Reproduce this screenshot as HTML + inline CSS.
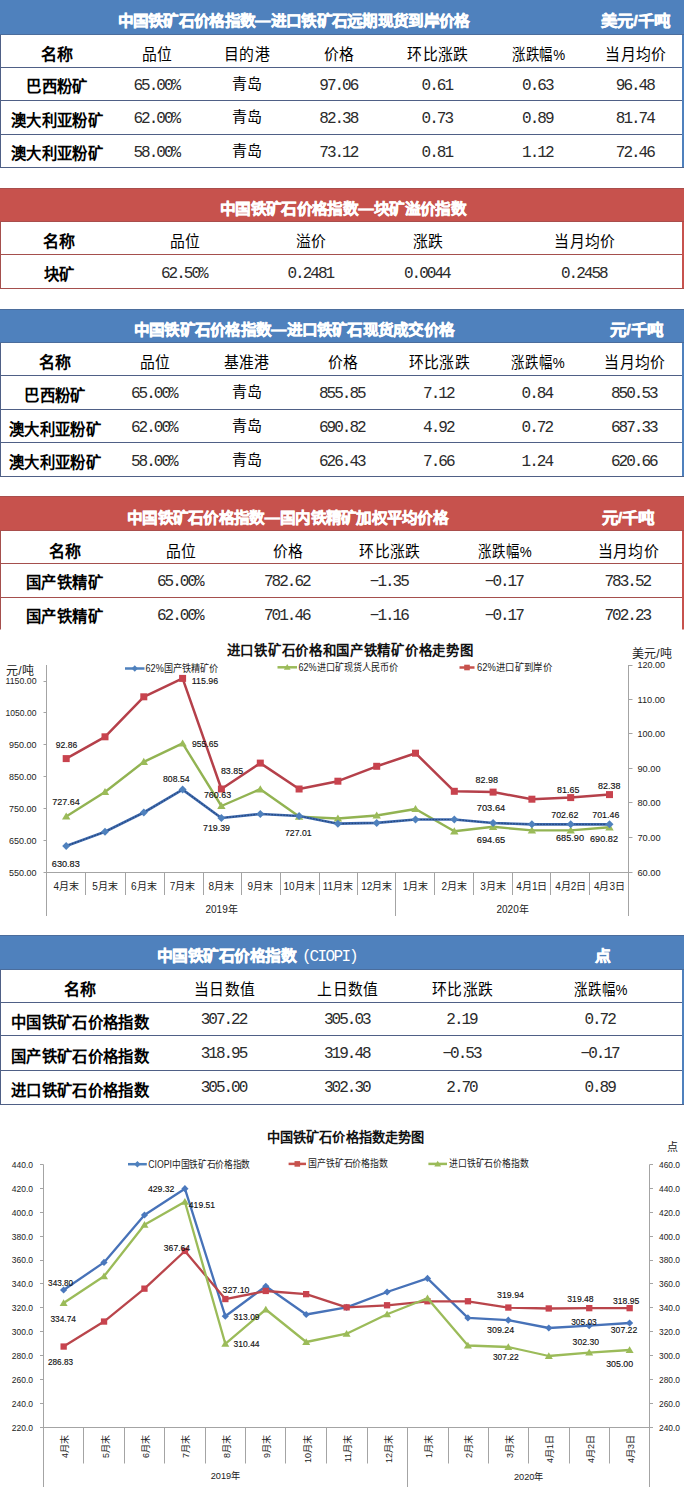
<!DOCTYPE html>
<html lang="zh-CN"><head><meta charset="utf-8"><title>中国铁矿石价格指数</title>
<style>html,body{margin:0;padding:0;background:#fff;}svg{display:block}</style></head>
<body><svg width="684" height="1487" viewBox="0 0 684 1487">
<rect x="0" y="0" width="684" height="1487" fill="#fff"/>
<rect x="0" y="0" width="684" height="35" fill="#4f81bd"/>
<rect x="0" y="34" width="684" height="1" fill="#4b6d9c"/>
<rect x="0" y="35" width="682" height="132" fill="#fff"/>
<rect x="0" y="35" width="1" height="132" fill="#4f6086"/>
<rect x="682" y="35" width="2" height="132" fill="#4f81bd"/>
<rect x="0" y="67" width="682" height="1" fill="#4f6086"/>
<rect x="0" y="100" width="682" height="1" fill="#4f6086"/>
<rect x="0" y="134" width="682" height="1" fill="#4f6086"/>
<rect x="0" y="167" width="684" height="1" fill="#4f6086"/>
<text x="117.5" y="26.4" font-family="Liberation Sans, sans-serif" font-size="15.3" font-weight="bold" fill="#fff" text-anchor="start" textLength="352" lengthAdjust="spacingAndGlyphs" stroke="#fff" stroke-width="0.5">中国铁矿石价格指数—进口铁矿石远期现货到岸价格</text>
<text x="601.0" y="26.4" font-family="Liberation Sans, sans-serif" font-size="15.3" font-weight="bold" fill="#fff" text-anchor="start" textLength="69" lengthAdjust="spacingAndGlyphs" stroke="#fff" stroke-width="0.5">美元/千吨</text>
<text x="57.0" y="59.9" font-family="Liberation Sans, sans-serif" font-size="16" font-weight="bold" fill="#000" text-anchor="middle" >名称</text>
<text x="157.5" y="59.6" font-family="Liberation Sans, sans-serif" font-size="15.5" font-weight="normal" fill="#000" text-anchor="middle" textLength="30.6" lengthAdjust="spacingAndGlyphs" >品位</text>
<text x="247.0" y="59.6" font-family="Liberation Sans, sans-serif" font-size="15.5" font-weight="normal" fill="#000" text-anchor="middle" textLength="45.9" lengthAdjust="spacingAndGlyphs" >目的港</text>
<text x="339.5" y="59.6" font-family="Liberation Sans, sans-serif" font-size="15.5" font-weight="normal" fill="#000" text-anchor="middle" textLength="30.6" lengthAdjust="spacingAndGlyphs" >价格</text>
<text x="438.0" y="59.6" font-family="Liberation Sans, sans-serif" font-size="15.5" font-weight="normal" fill="#000" text-anchor="middle" textLength="61.2" lengthAdjust="spacingAndGlyphs" >环比涨跌</text>
<text x="538.5" y="59.6" font-family="Liberation Sans, sans-serif" font-size="15.5" font-weight="normal" fill="#000" text-anchor="middle" textLength="53.4" lengthAdjust="spacingAndGlyphs" >涨跌幅%</text>
<text x="636.0" y="59.6" font-family="Liberation Sans, sans-serif" font-size="15.5" font-weight="normal" fill="#000" text-anchor="middle" textLength="61.2" lengthAdjust="spacingAndGlyphs" >当月均价</text>
<text x="57.0" y="92.4" font-family="Liberation Sans, sans-serif" font-size="16" font-weight="bold" fill="#000" text-anchor="middle" textLength="61.3" lengthAdjust="spacingAndGlyphs" >巴西粉矿</text>
<text x="156.3" y="89.9" font-family="Liberation Mono, monospace" font-size="16" font-weight="normal" fill="#2b2b2b" text-anchor="middle" letter-spacing="-2.0" >65.00%</text>
<text x="247.0" y="88.9" font-family="Liberation Sans, sans-serif" font-size="15" font-weight="normal" fill="#000" text-anchor="middle" >青岛</text>
<text x="338.3" y="89.9" font-family="Liberation Mono, monospace" font-size="16" font-weight="normal" fill="#2b2b2b" text-anchor="middle" letter-spacing="-2.0" >97.06</text>
<text x="436.8" y="89.9" font-family="Liberation Mono, monospace" font-size="16" font-weight="normal" fill="#2b2b2b" text-anchor="middle" letter-spacing="-2.0" >0.61</text>
<text x="537.3" y="89.9" font-family="Liberation Mono, monospace" font-size="16" font-weight="normal" fill="#2b2b2b" text-anchor="middle" letter-spacing="-2.0" >0.63</text>
<text x="634.8" y="89.9" font-family="Liberation Mono, monospace" font-size="16" font-weight="normal" fill="#2b2b2b" text-anchor="middle" letter-spacing="-2.0" >96.48</text>
<text x="57.0" y="125.9" font-family="Liberation Sans, sans-serif" font-size="16" font-weight="bold" fill="#000" text-anchor="middle" textLength="92.0" lengthAdjust="spacingAndGlyphs" >澳大利亚粉矿</text>
<text x="156.3" y="123.4" font-family="Liberation Mono, monospace" font-size="16" font-weight="normal" fill="#2b2b2b" text-anchor="middle" letter-spacing="-2.0" >62.00%</text>
<text x="247.0" y="122.4" font-family="Liberation Sans, sans-serif" font-size="15" font-weight="normal" fill="#000" text-anchor="middle" >青岛</text>
<text x="338.3" y="123.4" font-family="Liberation Mono, monospace" font-size="16" font-weight="normal" fill="#2b2b2b" text-anchor="middle" letter-spacing="-2.0" >82.38</text>
<text x="436.8" y="123.4" font-family="Liberation Mono, monospace" font-size="16" font-weight="normal" fill="#2b2b2b" text-anchor="middle" letter-spacing="-2.0" >0.73</text>
<text x="537.3" y="123.4" font-family="Liberation Mono, monospace" font-size="16" font-weight="normal" fill="#2b2b2b" text-anchor="middle" letter-spacing="-2.0" >0.89</text>
<text x="634.8" y="123.4" font-family="Liberation Mono, monospace" font-size="16" font-weight="normal" fill="#2b2b2b" text-anchor="middle" letter-spacing="-2.0" >81.74</text>
<text x="57.0" y="159.4" font-family="Liberation Sans, sans-serif" font-size="16" font-weight="bold" fill="#000" text-anchor="middle" textLength="92.0" lengthAdjust="spacingAndGlyphs" >澳大利亚粉矿</text>
<text x="156.3" y="156.9" font-family="Liberation Mono, monospace" font-size="16" font-weight="normal" fill="#2b2b2b" text-anchor="middle" letter-spacing="-2.0" >58.00%</text>
<text x="247.0" y="155.9" font-family="Liberation Sans, sans-serif" font-size="15" font-weight="normal" fill="#000" text-anchor="middle" >青岛</text>
<text x="338.3" y="156.9" font-family="Liberation Mono, monospace" font-size="16" font-weight="normal" fill="#2b2b2b" text-anchor="middle" letter-spacing="-2.0" >73.12</text>
<text x="436.8" y="156.9" font-family="Liberation Mono, monospace" font-size="16" font-weight="normal" fill="#2b2b2b" text-anchor="middle" letter-spacing="-2.0" >0.81</text>
<text x="537.3" y="156.9" font-family="Liberation Mono, monospace" font-size="16" font-weight="normal" fill="#2b2b2b" text-anchor="middle" letter-spacing="-2.0" >1.12</text>
<text x="634.8" y="156.9" font-family="Liberation Mono, monospace" font-size="16" font-weight="normal" fill="#2b2b2b" text-anchor="middle" letter-spacing="-2.0" >72.46</text>
<rect x="0" y="188" width="684" height="34" fill="#c7524d"/>
<rect x="0" y="188" width="684" height="1" fill="#a94e4c"/>
<rect x="0" y="221" width="684" height="1" fill="#a94e4c"/>
<rect x="0" y="222" width="682" height="66" fill="#fff"/>
<rect x="0" y="222" width="1" height="66" fill="#a54f4d"/>
<rect x="682" y="222" width="2" height="66" fill="#c7524d"/>
<rect x="0" y="254" width="682" height="1" fill="#a54f4d"/>
<rect x="0" y="288" width="684" height="1" fill="#a54f4d"/>
<text x="220.0" y="213.9" font-family="Liberation Sans, sans-serif" font-size="15.3" font-weight="bold" fill="#fff" text-anchor="start" textLength="246" lengthAdjust="spacingAndGlyphs" stroke="#fff" stroke-width="0.5">中国铁矿石价格指数—块矿溢价指数</text>
<text x="59.0" y="247.2" font-family="Liberation Sans, sans-serif" font-size="16" font-weight="bold" fill="#000" text-anchor="middle" >名称</text>
<text x="185.0" y="246.8" font-family="Liberation Sans, sans-serif" font-size="15.5" font-weight="normal" fill="#000" text-anchor="middle" textLength="30.6" lengthAdjust="spacingAndGlyphs" >品位</text>
<text x="311.5" y="246.8" font-family="Liberation Sans, sans-serif" font-size="15.5" font-weight="normal" fill="#000" text-anchor="middle" textLength="30.6" lengthAdjust="spacingAndGlyphs" >溢价</text>
<text x="428.0" y="246.8" font-family="Liberation Sans, sans-serif" font-size="15.5" font-weight="normal" fill="#000" text-anchor="middle" textLength="30.6" lengthAdjust="spacingAndGlyphs" >涨跌</text>
<text x="585.0" y="246.8" font-family="Liberation Sans, sans-serif" font-size="15.5" font-weight="normal" fill="#000" text-anchor="middle" textLength="61.2" lengthAdjust="spacingAndGlyphs" >当月均价</text>
<text x="59.0" y="280.2" font-family="Liberation Sans, sans-serif" font-size="16" font-weight="bold" fill="#000" text-anchor="middle" textLength="30.7" lengthAdjust="spacingAndGlyphs" >块矿</text>
<text x="183.8" y="277.6" font-family="Liberation Mono, monospace" font-size="16" font-weight="normal" fill="#2b2b2b" text-anchor="middle" letter-spacing="-2.0" >62.50%</text>
<text x="310.3" y="277.6" font-family="Liberation Mono, monospace" font-size="16" font-weight="normal" fill="#2b2b2b" text-anchor="middle" letter-spacing="-2.0" >0.2481</text>
<text x="426.8" y="277.6" font-family="Liberation Mono, monospace" font-size="16" font-weight="normal" fill="#2b2b2b" text-anchor="middle" letter-spacing="-2.0" >0.0044</text>
<text x="583.8" y="277.6" font-family="Liberation Mono, monospace" font-size="16" font-weight="normal" fill="#2b2b2b" text-anchor="middle" letter-spacing="-2.0" >0.2458</text>
<rect x="0" y="309" width="684" height="34" fill="#4f81bd"/>
<rect x="0" y="309" width="684" height="1" fill="#4b6d9c"/>
<rect x="0" y="342" width="684" height="1" fill="#4b6d9c"/>
<rect x="0" y="343" width="682" height="133" fill="#fff"/>
<rect x="0" y="343" width="1" height="133" fill="#4f6086"/>
<rect x="682" y="343" width="2" height="133" fill="#4f81bd"/>
<rect x="0" y="375" width="682" height="1" fill="#4f6086"/>
<rect x="0" y="409" width="682" height="1" fill="#4f6086"/>
<rect x="0" y="442" width="682" height="1" fill="#4f6086"/>
<rect x="0" y="476" width="684" height="1" fill="#4f6086"/>
<text x="134.0" y="334.9" font-family="Liberation Sans, sans-serif" font-size="15.3" font-weight="bold" fill="#fff" text-anchor="start" textLength="320" lengthAdjust="spacingAndGlyphs" stroke="#fff" stroke-width="0.5">中国铁矿石价格指数—进口铁矿石现货成交价格</text>
<text x="610.0" y="334.9" font-family="Liberation Sans, sans-serif" font-size="15.3" font-weight="bold" fill="#fff" text-anchor="start" textLength="53" lengthAdjust="spacingAndGlyphs" stroke="#fff" stroke-width="0.5">元/千吨</text>
<text x="55.0" y="367.9" font-family="Liberation Sans, sans-serif" font-size="16" font-weight="bold" fill="#000" text-anchor="middle" >名称</text>
<text x="155.0" y="367.6" font-family="Liberation Sans, sans-serif" font-size="15.5" font-weight="normal" fill="#000" text-anchor="middle" textLength="30.6" lengthAdjust="spacingAndGlyphs" >品位</text>
<text x="246.6" y="367.6" font-family="Liberation Sans, sans-serif" font-size="15.5" font-weight="normal" fill="#000" text-anchor="middle" textLength="45.9" lengthAdjust="spacingAndGlyphs" >基准港</text>
<text x="343.0" y="367.6" font-family="Liberation Sans, sans-serif" font-size="15.5" font-weight="normal" fill="#000" text-anchor="middle" textLength="30.6" lengthAdjust="spacingAndGlyphs" >价格</text>
<text x="439.5" y="367.6" font-family="Liberation Sans, sans-serif" font-size="15.5" font-weight="normal" fill="#000" text-anchor="middle" textLength="61.2" lengthAdjust="spacingAndGlyphs" >环比涨跌</text>
<text x="538.0" y="367.6" font-family="Liberation Sans, sans-serif" font-size="15.5" font-weight="normal" fill="#000" text-anchor="middle" textLength="53.4" lengthAdjust="spacingAndGlyphs" >涨跌幅%</text>
<text x="635.0" y="367.6" font-family="Liberation Sans, sans-serif" font-size="15.5" font-weight="normal" fill="#000" text-anchor="middle" textLength="61.2" lengthAdjust="spacingAndGlyphs" >当月均价</text>
<text x="55.0" y="400.9" font-family="Liberation Sans, sans-serif" font-size="16" font-weight="bold" fill="#000" text-anchor="middle" textLength="61.3" lengthAdjust="spacingAndGlyphs" >巴西粉矿</text>
<text x="153.8" y="398.4" font-family="Liberation Mono, monospace" font-size="16" font-weight="normal" fill="#2b2b2b" text-anchor="middle" letter-spacing="-2.0" >65.00%</text>
<text x="246.6" y="397.4" font-family="Liberation Sans, sans-serif" font-size="15" font-weight="normal" fill="#000" text-anchor="middle" >青岛</text>
<text x="341.8" y="398.4" font-family="Liberation Mono, monospace" font-size="16" font-weight="normal" fill="#2b2b2b" text-anchor="middle" letter-spacing="-2.0" >855.85</text>
<text x="438.3" y="398.4" font-family="Liberation Mono, monospace" font-size="16" font-weight="normal" fill="#2b2b2b" text-anchor="middle" letter-spacing="-2.0" >7.12</text>
<text x="536.8" y="398.4" font-family="Liberation Mono, monospace" font-size="16" font-weight="normal" fill="#2b2b2b" text-anchor="middle" letter-spacing="-2.0" >0.84</text>
<text x="633.8" y="398.4" font-family="Liberation Mono, monospace" font-size="16" font-weight="normal" fill="#2b2b2b" text-anchor="middle" letter-spacing="-2.0" >850.53</text>
<text x="55.0" y="434.7" font-family="Liberation Sans, sans-serif" font-size="16" font-weight="bold" fill="#000" text-anchor="middle" textLength="92.0" lengthAdjust="spacingAndGlyphs" >澳大利亚粉矿</text>
<text x="153.8" y="432.1" font-family="Liberation Mono, monospace" font-size="16" font-weight="normal" fill="#2b2b2b" text-anchor="middle" letter-spacing="-2.0" >62.00%</text>
<text x="246.6" y="431.2" font-family="Liberation Sans, sans-serif" font-size="15" font-weight="normal" fill="#000" text-anchor="middle" >青岛</text>
<text x="341.8" y="432.1" font-family="Liberation Mono, monospace" font-size="16" font-weight="normal" fill="#2b2b2b" text-anchor="middle" letter-spacing="-2.0" >690.82</text>
<text x="438.3" y="432.1" font-family="Liberation Mono, monospace" font-size="16" font-weight="normal" fill="#2b2b2b" text-anchor="middle" letter-spacing="-2.0" >4.92</text>
<text x="536.8" y="432.1" font-family="Liberation Mono, monospace" font-size="16" font-weight="normal" fill="#2b2b2b" text-anchor="middle" letter-spacing="-2.0" >0.72</text>
<text x="633.8" y="432.1" font-family="Liberation Mono, monospace" font-size="16" font-weight="normal" fill="#2b2b2b" text-anchor="middle" letter-spacing="-2.0" >687.33</text>
<text x="55.0" y="468.2" font-family="Liberation Sans, sans-serif" font-size="16" font-weight="bold" fill="#000" text-anchor="middle" textLength="92.0" lengthAdjust="spacingAndGlyphs" >澳大利亚粉矿</text>
<text x="153.8" y="465.6" font-family="Liberation Mono, monospace" font-size="16" font-weight="normal" fill="#2b2b2b" text-anchor="middle" letter-spacing="-2.0" >58.00%</text>
<text x="246.6" y="464.7" font-family="Liberation Sans, sans-serif" font-size="15" font-weight="normal" fill="#000" text-anchor="middle" >青岛</text>
<text x="341.8" y="465.6" font-family="Liberation Mono, monospace" font-size="16" font-weight="normal" fill="#2b2b2b" text-anchor="middle" letter-spacing="-2.0" >626.43</text>
<text x="438.3" y="465.6" font-family="Liberation Mono, monospace" font-size="16" font-weight="normal" fill="#2b2b2b" text-anchor="middle" letter-spacing="-2.0" >7.66</text>
<text x="536.8" y="465.6" font-family="Liberation Mono, monospace" font-size="16" font-weight="normal" fill="#2b2b2b" text-anchor="middle" letter-spacing="-2.0" >1.24</text>
<text x="633.8" y="465.6" font-family="Liberation Mono, monospace" font-size="16" font-weight="normal" fill="#2b2b2b" text-anchor="middle" letter-spacing="-2.0" >620.66</text>
<rect x="0" y="496" width="684" height="35" fill="#c7524d"/>
<rect x="0" y="496" width="684" height="1" fill="#a94e4c"/>
<rect x="0" y="530" width="684" height="1" fill="#a94e4c"/>
<rect x="0" y="531" width="682" height="98.5" fill="#fff"/>
<rect x="0" y="531" width="1" height="98.5" fill="#a54f4d"/>
<rect x="682" y="531" width="2" height="98.5" fill="#c7524d"/>
<rect x="0" y="563" width="682" height="1" fill="#a54f4d"/>
<rect x="0" y="597" width="682" height="1" fill="#a54f4d"/>
<text x="127.0" y="523.4" font-family="Liberation Sans, sans-serif" font-size="15.3" font-weight="bold" fill="#fff" text-anchor="start" textLength="321" lengthAdjust="spacingAndGlyphs" stroke="#fff" stroke-width="0.5">中国铁矿石价格指数—国内铁精矿加权平均价格</text>
<text x="601.5" y="523.4" font-family="Liberation Sans, sans-serif" font-size="15.3" font-weight="bold" fill="#fff" text-anchor="start" textLength="53" lengthAdjust="spacingAndGlyphs" stroke="#fff" stroke-width="0.5">元/千吨</text>
<text x="64.5" y="557.2" font-family="Liberation Sans, sans-serif" font-size="16" font-weight="bold" fill="#000" text-anchor="middle" >名称</text>
<text x="181.0" y="556.9" font-family="Liberation Sans, sans-serif" font-size="15.5" font-weight="normal" fill="#000" text-anchor="middle" textLength="30.6" lengthAdjust="spacingAndGlyphs" >品位</text>
<text x="288.0" y="556.9" font-family="Liberation Sans, sans-serif" font-size="15.5" font-weight="normal" fill="#000" text-anchor="middle" textLength="30.6" lengthAdjust="spacingAndGlyphs" >价格</text>
<text x="390.0" y="556.9" font-family="Liberation Sans, sans-serif" font-size="15.5" font-weight="normal" fill="#000" text-anchor="middle" textLength="61.2" lengthAdjust="spacingAndGlyphs" >环比涨跌</text>
<text x="505.0" y="556.9" font-family="Liberation Sans, sans-serif" font-size="15.5" font-weight="normal" fill="#000" text-anchor="middle" textLength="53.4" lengthAdjust="spacingAndGlyphs" >涨跌幅%</text>
<text x="628.5" y="556.9" font-family="Liberation Sans, sans-serif" font-size="15.5" font-weight="normal" fill="#000" text-anchor="middle" textLength="61.2" lengthAdjust="spacingAndGlyphs" >当月均价</text>
<text x="64.5" y="588.4" font-family="Liberation Sans, sans-serif" font-size="16" font-weight="bold" fill="#000" text-anchor="middle" textLength="76.7" lengthAdjust="spacingAndGlyphs" >国产铁精矿</text>
<text x="179.8" y="586.4" font-family="Liberation Mono, monospace" font-size="16" font-weight="normal" fill="#2b2b2b" text-anchor="middle" letter-spacing="-2.0" >65.00%</text>
<text x="286.8" y="586.4" font-family="Liberation Mono, monospace" font-size="16" font-weight="normal" fill="#2b2b2b" text-anchor="middle" letter-spacing="-2.0" >782.62</text>
<text x="388.8" y="586.4" font-family="Liberation Mono, monospace" font-size="16" font-weight="normal" fill="#2b2b2b" text-anchor="middle" letter-spacing="-2.0" >&#8722;1.35</text>
<text x="503.8" y="586.4" font-family="Liberation Mono, monospace" font-size="16" font-weight="normal" fill="#2b2b2b" text-anchor="middle" letter-spacing="-2.0" >&#8722;0.17</text>
<text x="627.3" y="586.4" font-family="Liberation Mono, monospace" font-size="16" font-weight="normal" fill="#2b2b2b" text-anchor="middle" letter-spacing="-2.0" >783.52</text>
<text x="64.5" y="621.6" font-family="Liberation Sans, sans-serif" font-size="16" font-weight="bold" fill="#000" text-anchor="middle" textLength="76.7" lengthAdjust="spacingAndGlyphs" >国产铁精矿</text>
<text x="179.8" y="619.6" font-family="Liberation Mono, monospace" font-size="16" font-weight="normal" fill="#2b2b2b" text-anchor="middle" letter-spacing="-2.0" >62.00%</text>
<text x="286.8" y="619.6" font-family="Liberation Mono, monospace" font-size="16" font-weight="normal" fill="#2b2b2b" text-anchor="middle" letter-spacing="-2.0" >701.46</text>
<text x="388.8" y="619.6" font-family="Liberation Mono, monospace" font-size="16" font-weight="normal" fill="#2b2b2b" text-anchor="middle" letter-spacing="-2.0" >&#8722;1.16</text>
<text x="503.8" y="619.6" font-family="Liberation Mono, monospace" font-size="16" font-weight="normal" fill="#2b2b2b" text-anchor="middle" letter-spacing="-2.0" >&#8722;0.17</text>
<text x="627.3" y="619.6" font-family="Liberation Mono, monospace" font-size="16" font-weight="normal" fill="#2b2b2b" text-anchor="middle" letter-spacing="-2.0" >702.23</text>
<rect x="0" y="935" width="684" height="35" fill="#4f81bd"/>
<rect x="0" y="935" width="684" height="1" fill="#4b6d9c"/>
<rect x="0" y="969" width="684" height="1" fill="#4b6d9c"/>
<rect x="0" y="970" width="682" height="134.29999999999995" fill="#fff"/>
<rect x="0" y="970" width="1" height="134.29999999999995" fill="#4f6086"/>
<rect x="682" y="970" width="2" height="134.29999999999995" fill="#4f81bd"/>
<rect x="0" y="1002" width="682" height="1" fill="#4f6086"/>
<rect x="0" y="1035" width="682" height="1" fill="#4f6086"/>
<rect x="0" y="1070" width="682" height="1" fill="#4f6086"/>
<rect x="0" y="1104" width="684" height="1" fill="#4f6086"/>
<text x="157.0" y="961.4" font-family="Liberation Sans, sans-serif" font-size="15.3" font-weight="bold" fill="#fff" text-anchor="start" textLength="139" lengthAdjust="spacingAndGlyphs" stroke="#fff" stroke-width="0.5">中国铁矿石价格指数</text>
<text x="302" y="961.0" font-family="Liberation Mono, monospace" font-size="16" fill="#fff">(</text><text x="309.5" y="961.0" font-family="Liberation Mono, monospace" font-size="16" fill="#fff" letter-spacing="-1.6">CIOPI</text><text x="349" y="961.0" font-family="Liberation Mono, monospace" font-size="16" fill="#fff">)</text>
<text x="594.5" y="961.4" font-family="Liberation Sans, sans-serif" font-size="15.3" font-weight="bold" fill="#fff" text-anchor="start" textLength="15.5" lengthAdjust="spacingAndGlyphs" stroke="#fff" stroke-width="0.5">点</text>
<text x="80.0" y="995.2" font-family="Liberation Sans, sans-serif" font-size="16" font-weight="bold" fill="#000" text-anchor="middle" >名称</text>
<text x="224.7" y="994.9" font-family="Liberation Sans, sans-serif" font-size="15.5" font-weight="normal" fill="#000" text-anchor="middle" textLength="61.2" lengthAdjust="spacingAndGlyphs" >当日数值</text>
<text x="348.0" y="994.9" font-family="Liberation Sans, sans-serif" font-size="15.5" font-weight="normal" fill="#000" text-anchor="middle" textLength="61.2" lengthAdjust="spacingAndGlyphs" >上日数值</text>
<text x="462.7" y="994.9" font-family="Liberation Sans, sans-serif" font-size="15.5" font-weight="normal" fill="#000" text-anchor="middle" textLength="61.2" lengthAdjust="spacingAndGlyphs" >环比涨跌</text>
<text x="600.8" y="994.9" font-family="Liberation Sans, sans-serif" font-size="15.5" font-weight="normal" fill="#000" text-anchor="middle" textLength="53.4" lengthAdjust="spacingAndGlyphs" >涨跌幅%</text>
<text x="80.0" y="1027.8" font-family="Liberation Sans, sans-serif" font-size="16" font-weight="bold" fill="#000" text-anchor="middle" textLength="138.0" lengthAdjust="spacingAndGlyphs" >中国铁矿石价格指数</text>
<text x="223.5" y="1023.7" font-family="Liberation Mono, monospace" font-size="16" font-weight="normal" fill="#2b2b2b" text-anchor="middle" letter-spacing="-2.0" >307.22</text>
<text x="346.8" y="1023.7" font-family="Liberation Mono, monospace" font-size="16" font-weight="normal" fill="#2b2b2b" text-anchor="middle" letter-spacing="-2.0" >305.03</text>
<text x="461.5" y="1023.7" font-family="Liberation Mono, monospace" font-size="16" font-weight="normal" fill="#2b2b2b" text-anchor="middle" letter-spacing="-2.0" >2.19</text>
<text x="599.6" y="1023.7" font-family="Liberation Mono, monospace" font-size="16" font-weight="normal" fill="#2b2b2b" text-anchor="middle" letter-spacing="-2.0" >0.72</text>
<text x="80.0" y="1061.7" font-family="Liberation Sans, sans-serif" font-size="16" font-weight="bold" fill="#000" text-anchor="middle" textLength="138.0" lengthAdjust="spacingAndGlyphs" >国产铁矿石价格指数</text>
<text x="223.5" y="1057.7" font-family="Liberation Mono, monospace" font-size="16" font-weight="normal" fill="#2b2b2b" text-anchor="middle" letter-spacing="-2.0" >318.95</text>
<text x="346.8" y="1057.7" font-family="Liberation Mono, monospace" font-size="16" font-weight="normal" fill="#2b2b2b" text-anchor="middle" letter-spacing="-2.0" >319.48</text>
<text x="461.5" y="1057.7" font-family="Liberation Mono, monospace" font-size="16" font-weight="normal" fill="#2b2b2b" text-anchor="middle" letter-spacing="-2.0" >&#8722;0.53</text>
<text x="599.6" y="1057.7" font-family="Liberation Mono, monospace" font-size="16" font-weight="normal" fill="#2b2b2b" text-anchor="middle" letter-spacing="-2.0" >&#8722;0.17</text>
<text x="80.0" y="1096.3" font-family="Liberation Sans, sans-serif" font-size="16" font-weight="bold" fill="#000" text-anchor="middle" textLength="138.0" lengthAdjust="spacingAndGlyphs" >进口铁矿石价格指数</text>
<text x="223.5" y="1092.3" font-family="Liberation Mono, monospace" font-size="16" font-weight="normal" fill="#2b2b2b" text-anchor="middle" letter-spacing="-2.0" >305.00</text>
<text x="346.8" y="1092.3" font-family="Liberation Mono, monospace" font-size="16" font-weight="normal" fill="#2b2b2b" text-anchor="middle" letter-spacing="-2.0" >302.30</text>
<text x="461.5" y="1092.3" font-family="Liberation Mono, monospace" font-size="16" font-weight="normal" fill="#2b2b2b" text-anchor="middle" letter-spacing="-2.0" >2.70</text>
<text x="599.6" y="1092.3" font-family="Liberation Mono, monospace" font-size="16" font-weight="normal" fill="#2b2b2b" text-anchor="middle" letter-spacing="-2.0" >0.89</text>
<line x1="46.5" y1="665" x2="46.5" y2="916" stroke="#a4a4a4" stroke-width="1" />
<line x1="628.5" y1="665" x2="628.5" y2="916" stroke="#a4a4a4" stroke-width="1" />
<line x1="47" y1="872.5" x2="629" y2="872.5" stroke="#a4a4a4" stroke-width="1" />
<line x1="43.5" y1="681.5" x2="47" y2="681.5" stroke="#a4a4a4" stroke-width="1" />
<text x="36.5" y="684.3" font-family="Liberation Sans, sans-serif" font-size="9.3" font-weight="normal" fill="#222" text-anchor="end" textLength="31" lengthAdjust="spacingAndGlyphs" >1150.00</text>
<line x1="43.5" y1="712.5" x2="47" y2="712.5" stroke="#a4a4a4" stroke-width="1" />
<text x="36.5" y="716.2" font-family="Liberation Sans, sans-serif" font-size="9.3" font-weight="normal" fill="#222" text-anchor="end" textLength="31" lengthAdjust="spacingAndGlyphs" >1050.00</text>
<line x1="43.5" y1="744.5" x2="47" y2="744.5" stroke="#a4a4a4" stroke-width="1" />
<text x="36.5" y="748.1" font-family="Liberation Sans, sans-serif" font-size="9.3" font-weight="normal" fill="#222" text-anchor="end" textLength="27.5" lengthAdjust="spacingAndGlyphs" >950.00</text>
<line x1="43.5" y1="776.5" x2="47" y2="776.5" stroke="#a4a4a4" stroke-width="1" />
<text x="36.5" y="780.0" font-family="Liberation Sans, sans-serif" font-size="9.3" font-weight="normal" fill="#222" text-anchor="end" textLength="27.5" lengthAdjust="spacingAndGlyphs" >850.00</text>
<line x1="43.5" y1="808.5" x2="47" y2="808.5" stroke="#a4a4a4" stroke-width="1" />
<text x="36.5" y="811.9" font-family="Liberation Sans, sans-serif" font-size="9.3" font-weight="normal" fill="#222" text-anchor="end" textLength="27.5" lengthAdjust="spacingAndGlyphs" >750.00</text>
<line x1="43.5" y1="840.5" x2="47" y2="840.5" stroke="#a4a4a4" stroke-width="1" />
<text x="36.5" y="843.8" font-family="Liberation Sans, sans-serif" font-size="9.3" font-weight="normal" fill="#222" text-anchor="end" textLength="27.5" lengthAdjust="spacingAndGlyphs" >650.00</text>
<line x1="43.5" y1="872.5" x2="47" y2="872.5" stroke="#a4a4a4" stroke-width="1" />
<text x="36.5" y="875.8" font-family="Liberation Sans, sans-serif" font-size="9.3" font-weight="normal" fill="#222" text-anchor="end" textLength="27.5" lengthAdjust="spacingAndGlyphs" >550.00</text>
<line x1="629" y1="665.5" x2="632.5" y2="665.5" stroke="#a4a4a4" stroke-width="1" />
<text x="637.5" y="668.4" font-family="Liberation Sans, sans-serif" font-size="9.3" font-weight="normal" fill="#222" text-anchor="start" textLength="27.5" lengthAdjust="spacingAndGlyphs" >120.00</text>
<line x1="629" y1="699.5" x2="632.5" y2="699.5" stroke="#a4a4a4" stroke-width="1" />
<text x="637.5" y="702.6" font-family="Liberation Sans, sans-serif" font-size="9.3" font-weight="normal" fill="#222" text-anchor="start" textLength="27.5" lengthAdjust="spacingAndGlyphs" >110.00</text>
<line x1="629" y1="733.5" x2="632.5" y2="733.5" stroke="#a4a4a4" stroke-width="1" />
<text x="637.5" y="737.2" font-family="Liberation Sans, sans-serif" font-size="9.3" font-weight="normal" fill="#222" text-anchor="start" textLength="27.5" lengthAdjust="spacingAndGlyphs" >100.00</text>
<line x1="629" y1="768.5" x2="632.5" y2="768.5" stroke="#a4a4a4" stroke-width="1" />
<text x="637.5" y="771.9" font-family="Liberation Sans, sans-serif" font-size="9.3" font-weight="normal" fill="#222" text-anchor="start" textLength="23" lengthAdjust="spacingAndGlyphs" >90.00</text>
<line x1="629" y1="802.5" x2="632.5" y2="802.5" stroke="#a4a4a4" stroke-width="1" />
<text x="637.5" y="806.1" font-family="Liberation Sans, sans-serif" font-size="9.3" font-weight="normal" fill="#222" text-anchor="start" textLength="23" lengthAdjust="spacingAndGlyphs" >80.00</text>
<line x1="629" y1="837.5" x2="632.5" y2="837.5" stroke="#a4a4a4" stroke-width="1" />
<text x="637.5" y="840.5" font-family="Liberation Sans, sans-serif" font-size="9.3" font-weight="normal" fill="#222" text-anchor="start" textLength="23" lengthAdjust="spacingAndGlyphs" >70.00</text>
<line x1="629" y1="872.5" x2="632.5" y2="872.5" stroke="#a4a4a4" stroke-width="1" />
<text x="637.5" y="875.8" font-family="Liberation Sans, sans-serif" font-size="9.3" font-weight="normal" fill="#222" text-anchor="start" textLength="23" lengthAdjust="spacingAndGlyphs" >60.00</text>
<line x1="85.5" y1="872.5" x2="85.5" y2="895" stroke="#a4a4a4" stroke-width="1" />
<line x1="125.5" y1="872.5" x2="125.5" y2="895" stroke="#a4a4a4" stroke-width="1" />
<line x1="164.5" y1="872.5" x2="164.5" y2="895" stroke="#a4a4a4" stroke-width="1" />
<line x1="203.5" y1="872.5" x2="203.5" y2="895" stroke="#a4a4a4" stroke-width="1" />
<line x1="241.5" y1="872.5" x2="241.5" y2="895" stroke="#a4a4a4" stroke-width="1" />
<line x1="280.5" y1="872.5" x2="280.5" y2="895" stroke="#a4a4a4" stroke-width="1" />
<line x1="319.5" y1="872.5" x2="319.5" y2="895" stroke="#a4a4a4" stroke-width="1" />
<line x1="357.5" y1="872.5" x2="357.5" y2="895" stroke="#a4a4a4" stroke-width="1" />
<line x1="395.5" y1="872.5" x2="395.5" y2="916" stroke="#a4a4a4" stroke-width="1" />
<line x1="434.5" y1="872.5" x2="434.5" y2="895" stroke="#a4a4a4" stroke-width="1" />
<line x1="473.5" y1="872.5" x2="473.5" y2="895" stroke="#a4a4a4" stroke-width="1" />
<line x1="512.5" y1="872.5" x2="512.5" y2="895" stroke="#a4a4a4" stroke-width="1" />
<line x1="550.5" y1="872.5" x2="550.5" y2="895" stroke="#a4a4a4" stroke-width="1" />
<line x1="589.5" y1="872.5" x2="589.5" y2="895" stroke="#a4a4a4" stroke-width="1" />
<text x="66.2" y="889.7" font-family="Liberation Sans, sans-serif" font-size="10" font-weight="normal" fill="#222" text-anchor="middle" >4月末</text>
<text x="105.0" y="889.7" font-family="Liberation Sans, sans-serif" font-size="10" font-weight="normal" fill="#222" text-anchor="middle" >5月末</text>
<text x="143.8" y="889.7" font-family="Liberation Sans, sans-serif" font-size="10" font-weight="normal" fill="#222" text-anchor="middle" >6月末</text>
<text x="182.6" y="889.7" font-family="Liberation Sans, sans-serif" font-size="10" font-weight="normal" fill="#222" text-anchor="middle" >7月末</text>
<text x="221.4" y="889.7" font-family="Liberation Sans, sans-serif" font-size="10" font-weight="normal" fill="#222" text-anchor="middle" >8月末</text>
<text x="260.3" y="889.7" font-family="Liberation Sans, sans-serif" font-size="10" font-weight="normal" fill="#222" text-anchor="middle" >9月末</text>
<text x="299.1" y="889.7" font-family="Liberation Sans, sans-serif" font-size="10" font-weight="normal" fill="#222" text-anchor="middle" >10月末</text>
<text x="337.9" y="889.7" font-family="Liberation Sans, sans-serif" font-size="10" font-weight="normal" fill="#222" text-anchor="middle" >11月末</text>
<text x="376.7" y="889.7" font-family="Liberation Sans, sans-serif" font-size="10" font-weight="normal" fill="#222" text-anchor="middle" >12月末</text>
<text x="415.5" y="889.7" font-family="Liberation Sans, sans-serif" font-size="10" font-weight="normal" fill="#222" text-anchor="middle" >1月末</text>
<text x="454.3" y="889.7" font-family="Liberation Sans, sans-serif" font-size="10" font-weight="normal" fill="#222" text-anchor="middle" >2月末</text>
<text x="493.1" y="889.7" font-family="Liberation Sans, sans-serif" font-size="10" font-weight="normal" fill="#222" text-anchor="middle" >3月末</text>
<text x="531.9" y="889.7" font-family="Liberation Sans, sans-serif" font-size="10" font-weight="normal" fill="#222" text-anchor="middle" >4月1日</text>
<text x="570.7" y="889.7" font-family="Liberation Sans, sans-serif" font-size="10" font-weight="normal" fill="#222" text-anchor="middle" >4月2日</text>
<text x="609.5" y="889.7" font-family="Liberation Sans, sans-serif" font-size="10" font-weight="normal" fill="#222" text-anchor="middle" >4月3日</text>
<text x="221.6" y="912.9" font-family="Liberation Sans, sans-serif" font-size="10" font-weight="normal" fill="#222" text-anchor="middle" >2019年</text>
<text x="512.6" y="913.4" font-family="Liberation Sans, sans-serif" font-size="10" font-weight="normal" fill="#222" text-anchor="middle" >2020年</text>
<text x="20.0" y="674.6" font-family="Liberation Sans, sans-serif" font-size="12" font-weight="normal" fill="#222" text-anchor="middle" >元/吨</text>
<text x="652.0" y="657.8" font-family="Liberation Sans, sans-serif" font-size="12" font-weight="normal" fill="#222" text-anchor="middle" >美元/吨</text>
<text x="226.8" y="655.2" font-family="Liberation Sans, sans-serif" font-size="13.7" font-weight="bold" fill="#111" text-anchor="start" textLength="246.6" lengthAdjust="spacingAndGlyphs" >进口铁矿石价格和国产铁精矿价格走势图</text>
<line x1="125" y1="668.5" x2="144.5" y2="668.5" stroke="#4f81bd" stroke-width="2.5" />
<polygon points="131.6,668.5 134.8,665.3 137.9,668.5 134.8,671.7" fill="#4f81bd"/>
<text x="145.5" y="671.9" font-family="Liberation Sans, sans-serif" font-size="10" font-weight="normal" fill="#222" text-anchor="start" textLength="73" lengthAdjust="spacingAndGlyphs" >62%国产铁精矿价</text>
<line x1="277.5" y1="667.3" x2="297" y2="667.3" stroke="#9bbb59" stroke-width="2.5" />
<polygon points="283.9,669.8 290.6,669.8 287.2,664.1" fill="#9bbb59"/>
<text x="298.4" y="670.7" font-family="Liberation Sans, sans-serif" font-size="10" font-weight="normal" fill="#222" text-anchor="start" textLength="100" lengthAdjust="spacingAndGlyphs" >62%进口矿现货人民币价</text>
<line x1="459.5" y1="667.5" x2="474.5" y2="667.5" stroke="#c7524d" stroke-width="2.5" />
<rect x="464.2" y="664.7" width="5.6" height="5.6" fill="#c7524d"/>
<text x="477.0" y="670.9" font-family="Liberation Sans, sans-serif" font-size="10" font-weight="normal" fill="#222" text-anchor="start" textLength="75" lengthAdjust="spacingAndGlyphs" >62%进口矿到岸价</text>
<polyline points="66.2,816.5 105.0,792.0 143.8,761.8 182.6,743.4 221.4,806.0 260.3,789.2 299.1,816.6 337.9,818.5 376.7,815.5 415.5,809.0 454.3,831.3 493.1,826.8 531.9,830.4 570.7,830.4 609.5,827.3" fill="none" stroke="#92b352" stroke-width="2.4" stroke-linejoin="round"/>
<polygon points="62.0,819.6 70.4,819.6 66.2,812.5" fill="#9bbb59"/>
<polygon points="100.8,795.1 109.2,795.1 105.0,788.0" fill="#9bbb59"/>
<polygon points="139.6,764.9 148.0,764.9 143.8,757.8" fill="#9bbb59"/>
<polygon points="178.4,746.5 186.8,746.5 182.6,739.4" fill="#9bbb59"/>
<polygon points="217.2,809.1 225.6,809.1 221.4,802.0" fill="#9bbb59"/>
<polygon points="256.1,792.4 264.5,792.4 260.3,785.2" fill="#9bbb59"/>
<polygon points="294.9,819.8 303.3,819.8 299.1,812.6" fill="#9bbb59"/>
<polygon points="333.7,821.6 342.1,821.6 337.9,814.5" fill="#9bbb59"/>
<polygon points="372.5,818.6 380.9,818.6 376.7,811.5" fill="#9bbb59"/>
<polygon points="411.3,812.1 419.7,812.1 415.5,805.0" fill="#9bbb59"/>
<polygon points="450.1,834.4 458.5,834.4 454.3,827.3" fill="#9bbb59"/>
<polygon points="488.9,829.9 497.3,829.9 493.1,822.8" fill="#9bbb59"/>
<polygon points="527.7,833.5 536.1,833.5 531.9,826.4" fill="#9bbb59"/>
<polygon points="566.5,833.5 574.9,833.5 570.7,826.4" fill="#9bbb59"/>
<polygon points="605.3,830.4 613.7,830.4 609.5,823.3" fill="#9bbb59"/>
<polyline points="66.2,846.0 105.0,831.8 143.8,812.5 182.6,789.6 221.4,818.0 260.3,814.0 299.1,816.0 337.9,823.7 376.7,822.9 415.5,819.5 454.3,819.5 493.1,823.0 531.9,824.3 570.7,824.3 609.5,824.3" fill="none" stroke="#3f6aae" stroke-width="2.7" stroke-linejoin="round"/>
<polyline points="66.2,846.0 105.0,831.8 143.8,812.5 182.6,789.6 221.4,818.0 260.3,814.0 299.1,816.0 337.9,823.7 376.7,822.9 415.5,819.5 454.3,819.5 493.1,823.0 531.9,824.3 570.7,824.3 609.5,824.3" fill="none" stroke="#24487e" stroke-width="1.2" stroke-dasharray="1.5,1.5"/>
<polygon points="62.2,846.0 66.2,842.0 70.2,846.0 66.2,850.0" fill="#4f81bd"/>
<polygon points="101.0,831.8 105.0,827.8 109.0,831.8 105.0,835.8" fill="#4f81bd"/>
<polygon points="139.8,812.5 143.8,808.5 147.8,812.5 143.8,816.5" fill="#4f81bd"/>
<polygon points="178.6,789.6 182.6,785.6 186.6,789.6 182.6,793.6" fill="#4f81bd"/>
<polygon points="217.4,818.0 221.4,814.0 225.4,818.0 221.4,822.0" fill="#4f81bd"/>
<polygon points="256.3,814.0 260.3,810.0 264.3,814.0 260.3,818.0" fill="#4f81bd"/>
<polygon points="295.1,816.0 299.1,812.0 303.1,816.0 299.1,820.0" fill="#4f81bd"/>
<polygon points="333.9,823.7 337.9,819.7 341.9,823.7 337.9,827.7" fill="#4f81bd"/>
<polygon points="372.7,822.9 376.7,818.9 380.7,822.9 376.7,826.9" fill="#4f81bd"/>
<polygon points="411.5,819.5 415.5,815.5 419.5,819.5 415.5,823.5" fill="#4f81bd"/>
<polygon points="450.3,819.5 454.3,815.5 458.3,819.5 454.3,823.5" fill="#4f81bd"/>
<polygon points="489.1,823.0 493.1,819.0 497.1,823.0 493.1,827.0" fill="#4f81bd"/>
<polygon points="527.9,824.3 531.9,820.3 535.9,824.3 531.9,828.3" fill="#4f81bd"/>
<polygon points="566.7,824.3 570.7,820.3 574.7,824.3 570.7,828.3" fill="#4f81bd"/>
<polygon points="605.5,824.3 609.5,820.3 613.5,824.3 609.5,828.3" fill="#4f81bd"/>
<polyline points="66.2,758.6 105.0,736.8 143.8,696.8 182.6,678.4 221.4,789.0 260.3,763.1 299.1,789.0 337.9,781.2 376.7,766.3 415.5,753.2 454.3,791.3 493.1,792.1 531.9,799.2 570.7,797.6 609.5,794.6" fill="none" stroke="#b5404a" stroke-width="2.5" stroke-linejoin="round"/>
<rect x="62.7" y="755.1" width="7.0" height="7.0" fill="#c8434e"/>
<rect x="101.5" y="733.3" width="7.0" height="7.0" fill="#c8434e"/>
<rect x="140.3" y="693.3" width="7.0" height="7.0" fill="#c8434e"/>
<rect x="179.1" y="674.9" width="7.0" height="7.0" fill="#c8434e"/>
<rect x="217.9" y="785.5" width="7.0" height="7.0" fill="#c8434e"/>
<rect x="256.8" y="759.6" width="7.0" height="7.0" fill="#c8434e"/>
<rect x="295.6" y="785.5" width="7.0" height="7.0" fill="#c8434e"/>
<rect x="334.4" y="777.7" width="7.0" height="7.0" fill="#c8434e"/>
<rect x="373.2" y="762.8" width="7.0" height="7.0" fill="#c8434e"/>
<rect x="412.0" y="749.7" width="7.0" height="7.0" fill="#c8434e"/>
<rect x="450.8" y="787.8" width="7.0" height="7.0" fill="#c8434e"/>
<rect x="489.6" y="788.6" width="7.0" height="7.0" fill="#c8434e"/>
<rect x="528.4" y="795.7" width="7.0" height="7.0" fill="#c8434e"/>
<rect x="567.2" y="794.1" width="7.0" height="7.0" fill="#c8434e"/>
<rect x="606.0" y="791.1" width="7.0" height="7.0" fill="#c8434e"/>
<text x="66.5" y="748.4" font-family="Liberation Sans, sans-serif" font-size="9.8" font-weight="normal" fill="#111" text-anchor="middle" textLength="21.4" lengthAdjust="spacingAndGlyphs" stroke="#111" stroke-width="0.15">92.86</text>
<text x="66.0" y="805.0" font-family="Liberation Sans, sans-serif" font-size="9.8" font-weight="normal" fill="#111" text-anchor="middle" textLength="27.5" lengthAdjust="spacingAndGlyphs" stroke="#111" stroke-width="0.15">727.64</text>
<text x="65.8" y="866.9" font-family="Liberation Sans, sans-serif" font-size="9.8" font-weight="normal" fill="#111" text-anchor="middle" textLength="28" lengthAdjust="spacingAndGlyphs" stroke="#111" stroke-width="0.15">630.83</text>
<text x="205.0" y="684.0" font-family="Liberation Sans, sans-serif" font-size="9.8" font-weight="normal" fill="#111" text-anchor="middle" textLength="26.4" lengthAdjust="spacingAndGlyphs" stroke="#111" stroke-width="0.15">115.96</text>
<text x="205.2" y="746.8" font-family="Liberation Sans, sans-serif" font-size="9.8" font-weight="normal" fill="#111" text-anchor="middle" textLength="26.4" lengthAdjust="spacingAndGlyphs" stroke="#111" stroke-width="0.15">955.65</text>
<text x="176.3" y="781.6" font-family="Liberation Sans, sans-serif" font-size="9.8" font-weight="normal" fill="#111" text-anchor="middle" textLength="26.5" lengthAdjust="spacingAndGlyphs" stroke="#111" stroke-width="0.15">808.54</text>
<text x="232.0" y="773.9" font-family="Liberation Sans, sans-serif" font-size="9.8" font-weight="normal" fill="#111" text-anchor="middle" textLength="22.2" lengthAdjust="spacingAndGlyphs" stroke="#111" stroke-width="0.15">83.85</text>
<text x="217.5" y="798.1" font-family="Liberation Sans, sans-serif" font-size="9.8" font-weight="normal" fill="#111" text-anchor="middle" textLength="27.2" lengthAdjust="spacingAndGlyphs" stroke="#111" stroke-width="0.15">760.63</text>
<text x="216.5" y="831.4" font-family="Liberation Sans, sans-serif" font-size="9.8" font-weight="normal" fill="#111" text-anchor="middle" textLength="27" lengthAdjust="spacingAndGlyphs" stroke="#111" stroke-width="0.15">719.39</text>
<text x="298.3" y="835.8" font-family="Liberation Sans, sans-serif" font-size="9.8" font-weight="normal" fill="#111" text-anchor="middle" textLength="26.6" lengthAdjust="spacingAndGlyphs" stroke="#111" stroke-width="0.15">727.01</text>
<text x="486.8" y="783.4" font-family="Liberation Sans, sans-serif" font-size="9.8" font-weight="normal" fill="#111" text-anchor="middle" textLength="22.5" lengthAdjust="spacingAndGlyphs" stroke="#111" stroke-width="0.15">82.98</text>
<text x="491.0" y="811.4" font-family="Liberation Sans, sans-serif" font-size="9.8" font-weight="normal" fill="#111" text-anchor="middle" textLength="28.5" lengthAdjust="spacingAndGlyphs" stroke="#111" stroke-width="0.15">703.64</text>
<text x="491.0" y="843.4" font-family="Liberation Sans, sans-serif" font-size="9.8" font-weight="normal" fill="#111" text-anchor="middle" textLength="28.5" lengthAdjust="spacingAndGlyphs" stroke="#111" stroke-width="0.15">694.65</text>
<text x="568.2" y="793.4" font-family="Liberation Sans, sans-serif" font-size="9.8" font-weight="normal" fill="#111" text-anchor="middle" textLength="22.4" lengthAdjust="spacingAndGlyphs" stroke="#111" stroke-width="0.15">81.65</text>
<text x="609.2" y="789.4" font-family="Liberation Sans, sans-serif" font-size="9.8" font-weight="normal" fill="#111" text-anchor="middle" textLength="22.4" lengthAdjust="spacingAndGlyphs" stroke="#111" stroke-width="0.15">82.38</text>
<text x="564.8" y="817.8" font-family="Liberation Sans, sans-serif" font-size="9.8" font-weight="normal" fill="#111" text-anchor="middle" textLength="27" lengthAdjust="spacingAndGlyphs" stroke="#111" stroke-width="0.15">702.62</text>
<text x="605.8" y="817.8" font-family="Liberation Sans, sans-serif" font-size="9.8" font-weight="normal" fill="#111" text-anchor="middle" textLength="27" lengthAdjust="spacingAndGlyphs" stroke="#111" stroke-width="0.15">701.46</text>
<text x="570.0" y="841.2" font-family="Liberation Sans, sans-serif" font-size="9.8" font-weight="normal" fill="#111" text-anchor="middle" textLength="28" lengthAdjust="spacingAndGlyphs" stroke="#111" stroke-width="0.15">685.90</text>
<text x="604.0" y="842.4" font-family="Liberation Sans, sans-serif" font-size="9.8" font-weight="normal" fill="#111" text-anchor="middle" textLength="28" lengthAdjust="spacingAndGlyphs" stroke="#111" stroke-width="0.15">690.82</text>
<line x1="43.5" y1="1164.6" x2="43.5" y2="1487" stroke="#a4a4a4" stroke-width="1" />
<line x1="649.5" y1="1164.6" x2="649.5" y2="1487" stroke="#a4a4a4" stroke-width="1" />
<line x1="43.5" y1="1427.5" x2="650" y2="1427.5" stroke="#a4a4a4" stroke-width="1" />
<line x1="40" y1="1164.5" x2="43.5" y2="1164.5" stroke="#a4a4a4" stroke-width="1" />
<text x="33.0" y="1167.9" font-family="Liberation Sans, sans-serif" font-size="9.3" font-weight="normal" fill="#222" text-anchor="end" textLength="21.2" lengthAdjust="spacingAndGlyphs" >440.0</text>
<line x1="649.5" y1="1164.5" x2="653" y2="1164.5" stroke="#a4a4a4" stroke-width="1" />
<text x="659.0" y="1167.9" font-family="Liberation Sans, sans-serif" font-size="9.3" font-weight="normal" fill="#222" text-anchor="start" textLength="21" lengthAdjust="spacingAndGlyphs" >460.0</text>
<line x1="40" y1="1188.5" x2="43.5" y2="1188.5" stroke="#a4a4a4" stroke-width="1" />
<text x="33.0" y="1191.7" font-family="Liberation Sans, sans-serif" font-size="9.3" font-weight="normal" fill="#222" text-anchor="end" textLength="21.2" lengthAdjust="spacingAndGlyphs" >420.0</text>
<line x1="649.5" y1="1188.5" x2="653" y2="1188.5" stroke="#a4a4a4" stroke-width="1" />
<text x="659.0" y="1191.7" font-family="Liberation Sans, sans-serif" font-size="9.3" font-weight="normal" fill="#222" text-anchor="start" textLength="21" lengthAdjust="spacingAndGlyphs" >440.0</text>
<line x1="40" y1="1212.5" x2="43.5" y2="1212.5" stroke="#a4a4a4" stroke-width="1" />
<text x="33.0" y="1215.6" font-family="Liberation Sans, sans-serif" font-size="9.3" font-weight="normal" fill="#222" text-anchor="end" textLength="21.2" lengthAdjust="spacingAndGlyphs" >400.0</text>
<line x1="649.5" y1="1212.5" x2="653" y2="1212.5" stroke="#a4a4a4" stroke-width="1" />
<text x="659.0" y="1215.6" font-family="Liberation Sans, sans-serif" font-size="9.3" font-weight="normal" fill="#222" text-anchor="start" textLength="21" lengthAdjust="spacingAndGlyphs" >420.0</text>
<line x1="40" y1="1236.5" x2="43.5" y2="1236.5" stroke="#a4a4a4" stroke-width="1" />
<text x="33.0" y="1239.5" font-family="Liberation Sans, sans-serif" font-size="9.3" font-weight="normal" fill="#222" text-anchor="end" textLength="21.2" lengthAdjust="spacingAndGlyphs" >380.0</text>
<line x1="649.5" y1="1236.5" x2="653" y2="1236.5" stroke="#a4a4a4" stroke-width="1" />
<text x="659.0" y="1239.5" font-family="Liberation Sans, sans-serif" font-size="9.3" font-weight="normal" fill="#222" text-anchor="start" textLength="21" lengthAdjust="spacingAndGlyphs" >400.0</text>
<line x1="40" y1="1260.5" x2="43.5" y2="1260.5" stroke="#a4a4a4" stroke-width="1" />
<text x="33.0" y="1263.3" font-family="Liberation Sans, sans-serif" font-size="9.3" font-weight="normal" fill="#222" text-anchor="end" textLength="21.2" lengthAdjust="spacingAndGlyphs" >360.0</text>
<line x1="649.5" y1="1260.5" x2="653" y2="1260.5" stroke="#a4a4a4" stroke-width="1" />
<text x="659.0" y="1263.3" font-family="Liberation Sans, sans-serif" font-size="9.3" font-weight="normal" fill="#222" text-anchor="start" textLength="21" lengthAdjust="spacingAndGlyphs" >380.0</text>
<line x1="40" y1="1283.5" x2="43.5" y2="1283.5" stroke="#a4a4a4" stroke-width="1" />
<text x="33.0" y="1287.2" font-family="Liberation Sans, sans-serif" font-size="9.3" font-weight="normal" fill="#222" text-anchor="end" textLength="21.2" lengthAdjust="spacingAndGlyphs" >340.0</text>
<line x1="649.5" y1="1283.5" x2="653" y2="1283.5" stroke="#a4a4a4" stroke-width="1" />
<text x="659.0" y="1287.2" font-family="Liberation Sans, sans-serif" font-size="9.3" font-weight="normal" fill="#222" text-anchor="start" textLength="21" lengthAdjust="spacingAndGlyphs" >360.0</text>
<line x1="40" y1="1307.5" x2="43.5" y2="1307.5" stroke="#a4a4a4" stroke-width="1" />
<text x="33.0" y="1311.1" font-family="Liberation Sans, sans-serif" font-size="9.3" font-weight="normal" fill="#222" text-anchor="end" textLength="21.2" lengthAdjust="spacingAndGlyphs" >320.0</text>
<line x1="649.5" y1="1307.5" x2="653" y2="1307.5" stroke="#a4a4a4" stroke-width="1" />
<text x="659.0" y="1311.1" font-family="Liberation Sans, sans-serif" font-size="9.3" font-weight="normal" fill="#222" text-anchor="start" textLength="21" lengthAdjust="spacingAndGlyphs" >340.0</text>
<line x1="40" y1="1331.5" x2="43.5" y2="1331.5" stroke="#a4a4a4" stroke-width="1" />
<text x="33.0" y="1335.0" font-family="Liberation Sans, sans-serif" font-size="9.3" font-weight="normal" fill="#222" text-anchor="end" textLength="21.2" lengthAdjust="spacingAndGlyphs" >300.0</text>
<line x1="649.5" y1="1331.5" x2="653" y2="1331.5" stroke="#a4a4a4" stroke-width="1" />
<text x="659.0" y="1335.0" font-family="Liberation Sans, sans-serif" font-size="9.3" font-weight="normal" fill="#222" text-anchor="start" textLength="21" lengthAdjust="spacingAndGlyphs" >320.0</text>
<line x1="40" y1="1355.5" x2="43.5" y2="1355.5" stroke="#a4a4a4" stroke-width="1" />
<text x="33.0" y="1358.8" font-family="Liberation Sans, sans-serif" font-size="9.3" font-weight="normal" fill="#222" text-anchor="end" textLength="21.2" lengthAdjust="spacingAndGlyphs" >280.0</text>
<line x1="649.5" y1="1355.5" x2="653" y2="1355.5" stroke="#a4a4a4" stroke-width="1" />
<text x="659.0" y="1358.8" font-family="Liberation Sans, sans-serif" font-size="9.3" font-weight="normal" fill="#222" text-anchor="start" textLength="21" lengthAdjust="spacingAndGlyphs" >300.0</text>
<line x1="40" y1="1379.5" x2="43.5" y2="1379.5" stroke="#a4a4a4" stroke-width="1" />
<text x="33.0" y="1382.7" font-family="Liberation Sans, sans-serif" font-size="9.3" font-weight="normal" fill="#222" text-anchor="end" textLength="21.2" lengthAdjust="spacingAndGlyphs" >260.0</text>
<line x1="649.5" y1="1379.5" x2="653" y2="1379.5" stroke="#a4a4a4" stroke-width="1" />
<text x="659.0" y="1382.7" font-family="Liberation Sans, sans-serif" font-size="9.3" font-weight="normal" fill="#222" text-anchor="start" textLength="21" lengthAdjust="spacingAndGlyphs" >280.0</text>
<line x1="40" y1="1403.5" x2="43.5" y2="1403.5" stroke="#a4a4a4" stroke-width="1" />
<text x="33.0" y="1406.6" font-family="Liberation Sans, sans-serif" font-size="9.3" font-weight="normal" fill="#222" text-anchor="end" textLength="21.2" lengthAdjust="spacingAndGlyphs" >240.0</text>
<line x1="649.5" y1="1403.5" x2="653" y2="1403.5" stroke="#a4a4a4" stroke-width="1" />
<text x="659.0" y="1406.6" font-family="Liberation Sans, sans-serif" font-size="9.3" font-weight="normal" fill="#222" text-anchor="start" textLength="21" lengthAdjust="spacingAndGlyphs" >260.0</text>
<line x1="40" y1="1427.5" x2="43.5" y2="1427.5" stroke="#a4a4a4" stroke-width="1" />
<text x="33.0" y="1430.5" font-family="Liberation Sans, sans-serif" font-size="9.3" font-weight="normal" fill="#222" text-anchor="end" textLength="21.2" lengthAdjust="spacingAndGlyphs" >220.0</text>
<line x1="649.5" y1="1427.5" x2="653" y2="1427.5" stroke="#a4a4a4" stroke-width="1" />
<text x="659.0" y="1430.5" font-family="Liberation Sans, sans-serif" font-size="9.3" font-weight="normal" fill="#222" text-anchor="start" textLength="21" lengthAdjust="spacingAndGlyphs" >240.0</text>
<line x1="83.5" y1="1427.5" x2="83.5" y2="1463.5" stroke="#a4a4a4" stroke-width="1" />
<line x1="124.5" y1="1427.5" x2="124.5" y2="1463.5" stroke="#a4a4a4" stroke-width="1" />
<line x1="164.5" y1="1427.5" x2="164.5" y2="1463.5" stroke="#a4a4a4" stroke-width="1" />
<line x1="205.5" y1="1427.5" x2="205.5" y2="1463.5" stroke="#a4a4a4" stroke-width="1" />
<line x1="245.5" y1="1427.5" x2="245.5" y2="1463.5" stroke="#a4a4a4" stroke-width="1" />
<line x1="285.5" y1="1427.5" x2="285.5" y2="1463.5" stroke="#a4a4a4" stroke-width="1" />
<line x1="326.5" y1="1427.5" x2="326.5" y2="1463.5" stroke="#a4a4a4" stroke-width="1" />
<line x1="367.5" y1="1427.5" x2="367.5" y2="1463.5" stroke="#a4a4a4" stroke-width="1" />
<line x1="407.5" y1="1427.5" x2="407.5" y2="1487" stroke="#a4a4a4" stroke-width="1" />
<line x1="448.5" y1="1427.5" x2="448.5" y2="1463.5" stroke="#a4a4a4" stroke-width="1" />
<line x1="488.5" y1="1427.5" x2="488.5" y2="1463.5" stroke="#a4a4a4" stroke-width="1" />
<line x1="528.5" y1="1427.5" x2="528.5" y2="1463.5" stroke="#a4a4a4" stroke-width="1" />
<line x1="569.5" y1="1427.5" x2="569.5" y2="1463.5" stroke="#a4a4a4" stroke-width="1" />
<line x1="609.5" y1="1427.5" x2="609.5" y2="1463.5" stroke="#a4a4a4" stroke-width="1" />
<text transform="translate(68.1,1435) rotate(-90)" font-family="Liberation Sans, sans-serif" font-size="9" fill="#222" text-anchor="end">4月末</text>
<text transform="translate(108.5,1435) rotate(-90)" font-family="Liberation Sans, sans-serif" font-size="9" fill="#222" text-anchor="end">5月末</text>
<text transform="translate(149.0,1435) rotate(-90)" font-family="Liberation Sans, sans-serif" font-size="9" fill="#222" text-anchor="end">6月末</text>
<text transform="translate(189.4,1435) rotate(-90)" font-family="Liberation Sans, sans-serif" font-size="9" fill="#222" text-anchor="end">7月末</text>
<text transform="translate(229.8,1435) rotate(-90)" font-family="Liberation Sans, sans-serif" font-size="9" fill="#222" text-anchor="end">8月末</text>
<text transform="translate(270.3,1435) rotate(-90)" font-family="Liberation Sans, sans-serif" font-size="9" fill="#222" text-anchor="end">9月末</text>
<text transform="translate(310.7,1435) rotate(-90)" font-family="Liberation Sans, sans-serif" font-size="9" fill="#222" text-anchor="end">10月末</text>
<text transform="translate(351.1,1435) rotate(-90)" font-family="Liberation Sans, sans-serif" font-size="9" fill="#222" text-anchor="end">11月末</text>
<text transform="translate(391.6,1435) rotate(-90)" font-family="Liberation Sans, sans-serif" font-size="9" fill="#222" text-anchor="end">12月末</text>
<text transform="translate(432.0,1435) rotate(-90)" font-family="Liberation Sans, sans-serif" font-size="9" fill="#222" text-anchor="end">1月末</text>
<text transform="translate(472.4,1435) rotate(-90)" font-family="Liberation Sans, sans-serif" font-size="9" fill="#222" text-anchor="end">2月末</text>
<text transform="translate(512.8,1435) rotate(-90)" font-family="Liberation Sans, sans-serif" font-size="9" fill="#222" text-anchor="end">3月末</text>
<text transform="translate(553.3,1435) rotate(-90)" font-family="Liberation Sans, sans-serif" font-size="9" fill="#222" text-anchor="end">4月1日</text>
<text transform="translate(593.7,1435) rotate(-90)" font-family="Liberation Sans, sans-serif" font-size="9" fill="#222" text-anchor="end">4月2日</text>
<text transform="translate(634.1,1435) rotate(-90)" font-family="Liberation Sans, sans-serif" font-size="9" fill="#222" text-anchor="end">4月3日</text>
<text x="225.4" y="1478.7" font-family="Liberation Sans, sans-serif" font-size="9.2" font-weight="normal" fill="#222" text-anchor="middle" >2019年</text>
<text x="528.7" y="1479.5" font-family="Liberation Sans, sans-serif" font-size="9.2" font-weight="normal" fill="#222" text-anchor="middle" >2020年</text>
<text x="672.3" y="1150.5" font-family="Liberation Sans, sans-serif" font-size="11" font-weight="normal" fill="#222" text-anchor="middle" >点</text>
<text x="267.0" y="1141.6" font-family="Liberation Sans, sans-serif" font-size="13.1" font-weight="bold" fill="#111" text-anchor="start" textLength="157" lengthAdjust="spacingAndGlyphs" >中国铁矿石价格指数走势图</text>
<line x1="128" y1="1164.2" x2="146.8" y2="1164.2" stroke="#4f81bd" stroke-width="2.5" />
<polygon points="134.2,1164.2 137.4,1161.0 140.6,1164.2 137.4,1167.4" fill="#4f81bd"/>
<text x="148.2" y="1167.6" font-family="Liberation Sans, sans-serif" font-size="10" font-weight="normal" fill="#222" text-anchor="start" textLength="102" lengthAdjust="spacingAndGlyphs" >CIOPI中国铁矿石价格指数</text>
<line x1="288.6" y1="1163.9" x2="306" y2="1163.9" stroke="#c7524d" stroke-width="2.5" />
<rect x="294.5" y="1161.1" width="5.6" height="5.6" fill="#c7524d"/>
<text x="308.0" y="1167.3" font-family="Liberation Sans, sans-serif" font-size="10" font-weight="normal" fill="#222" text-anchor="start" textLength="80" lengthAdjust="spacingAndGlyphs" >国产铁矿石价格指数</text>
<line x1="428.4" y1="1163.9" x2="447" y2="1163.9" stroke="#9bbb59" stroke-width="2.5" />
<polygon points="434.3,1166.4 441.1,1166.4 437.7,1160.7" fill="#9bbb59"/>
<text x="449.0" y="1167.3" font-family="Liberation Sans, sans-serif" font-size="10" font-weight="normal" fill="#222" text-anchor="start" textLength="79.5" lengthAdjust="spacingAndGlyphs" >进口铁矿石价格指数</text>
<polyline points="63.6,1290.0 104.0,1262.4 144.5,1215.0 184.9,1188.7 225.3,1316.2 265.8,1286.3 306.2,1314.5 346.6,1307.4 387.1,1292.0 427.5,1278.4 467.9,1317.9 508.3,1320.2 548.8,1328.0 589.2,1325.7 629.6,1323.0" fill="none" stroke="#4772b8" stroke-width="2.3" stroke-linejoin="round"/>
<polygon points="60.0,1290.0 63.6,1286.4 67.2,1290.0 63.6,1293.6" fill="#4a78bd"/>
<polygon points="100.4,1262.4 104.0,1258.8 107.6,1262.4 104.0,1266.0" fill="#4a78bd"/>
<polygon points="140.9,1215.0 144.5,1211.4 148.1,1215.0 144.5,1218.6" fill="#4a78bd"/>
<polygon points="181.3,1188.7 184.9,1185.1 188.5,1188.7 184.9,1192.3" fill="#4a78bd"/>
<polygon points="221.7,1316.2 225.3,1312.6 228.9,1316.2 225.3,1319.8" fill="#4a78bd"/>
<polygon points="262.2,1286.3 265.8,1282.7 269.4,1286.3 265.8,1289.9" fill="#4a78bd"/>
<polygon points="302.6,1314.5 306.2,1310.9 309.8,1314.5 306.2,1318.1" fill="#4a78bd"/>
<polygon points="343.0,1307.4 346.6,1303.8 350.2,1307.4 346.6,1311.0" fill="#4a78bd"/>
<polygon points="383.5,1292.0 387.1,1288.4 390.7,1292.0 387.1,1295.6" fill="#4a78bd"/>
<polygon points="423.9,1278.4 427.5,1274.8 431.1,1278.4 427.5,1282.0" fill="#4a78bd"/>
<polygon points="464.3,1317.9 467.9,1314.3 471.5,1317.9 467.9,1321.5" fill="#4a78bd"/>
<polygon points="504.7,1320.2 508.3,1316.6 511.9,1320.2 508.3,1323.8" fill="#4a78bd"/>
<polygon points="545.2,1328.0 548.8,1324.4 552.4,1328.0 548.8,1331.6" fill="#4a78bd"/>
<polygon points="585.6,1325.7 589.2,1322.1 592.8,1325.7 589.2,1329.3" fill="#4a78bd"/>
<polygon points="626.0,1323.0 629.6,1319.4 633.2,1323.0 629.6,1326.6" fill="#4a78bd"/>
<polyline points="63.6,1346.6 104.0,1321.6 144.5,1288.7 184.9,1251.0 225.3,1299.1 265.8,1291.0 306.2,1294.2 346.6,1307.4 387.1,1305.3 427.5,1301.3 467.9,1301.3 508.3,1307.6 548.8,1308.5 589.2,1308.2 629.6,1308.2" fill="none" stroke="#b9454b" stroke-width="2.3" stroke-linejoin="round"/>
<rect x="60.5" y="1343.4" width="6.3" height="6.3" fill="#c8434e"/>
<rect x="100.9" y="1318.4" width="6.3" height="6.3" fill="#c8434e"/>
<rect x="141.3" y="1285.5" width="6.3" height="6.3" fill="#c8434e"/>
<rect x="181.8" y="1247.8" width="6.3" height="6.3" fill="#c8434e"/>
<rect x="222.2" y="1295.9" width="6.3" height="6.3" fill="#c8434e"/>
<rect x="262.6" y="1287.8" width="6.3" height="6.3" fill="#c8434e"/>
<rect x="303.0" y="1291.0" width="6.3" height="6.3" fill="#c8434e"/>
<rect x="343.5" y="1304.2" width="6.3" height="6.3" fill="#c8434e"/>
<rect x="383.9" y="1302.1" width="6.3" height="6.3" fill="#c8434e"/>
<rect x="424.3" y="1298.1" width="6.3" height="6.3" fill="#c8434e"/>
<rect x="464.8" y="1298.1" width="6.3" height="6.3" fill="#c8434e"/>
<rect x="505.2" y="1304.4" width="6.3" height="6.3" fill="#c8434e"/>
<rect x="545.6" y="1305.3" width="6.3" height="6.3" fill="#c8434e"/>
<rect x="586.1" y="1305.0" width="6.3" height="6.3" fill="#c8434e"/>
<rect x="626.5" y="1305.0" width="6.3" height="6.3" fill="#c8434e"/>
<polyline points="63.6,1303.0 104.0,1276.3 144.5,1224.7 184.9,1201.8 225.3,1343.8 265.8,1309.5 306.2,1342.0 346.6,1333.7 387.1,1314.3 427.5,1298.2 467.9,1345.5 508.3,1347.0 548.8,1356.0 589.2,1352.6 629.6,1350.0" fill="none" stroke="#9bbb59" stroke-width="2.3" stroke-linejoin="round"/>
<polygon points="59.6,1306.0 67.6,1306.0 63.6,1299.2" fill="#9bbb59"/>
<polygon points="100.1,1279.3 108.0,1279.3 104.0,1272.5" fill="#9bbb59"/>
<polygon points="140.5,1227.7 148.5,1227.7 144.5,1220.9" fill="#9bbb59"/>
<polygon points="180.9,1204.8 188.9,1204.8 184.9,1198.0" fill="#9bbb59"/>
<polygon points="221.3,1346.8 229.3,1346.8 225.3,1340.0" fill="#9bbb59"/>
<polygon points="261.8,1312.5 269.8,1312.5 265.8,1305.7" fill="#9bbb59"/>
<polygon points="302.2,1345.0 310.2,1345.0 306.2,1338.2" fill="#9bbb59"/>
<polygon points="342.6,1336.7 350.6,1336.7 346.6,1329.9" fill="#9bbb59"/>
<polygon points="383.1,1317.3 391.0,1317.3 387.1,1310.5" fill="#9bbb59"/>
<polygon points="423.5,1301.2 431.5,1301.2 427.5,1294.4" fill="#9bbb59"/>
<polygon points="463.9,1348.5 471.9,1348.5 467.9,1341.7" fill="#9bbb59"/>
<polygon points="504.4,1350.0 512.3,1350.0 508.3,1343.2" fill="#9bbb59"/>
<polygon points="544.8,1359.0 552.8,1359.0 548.8,1352.2" fill="#9bbb59"/>
<polygon points="585.2,1355.6 593.2,1355.6 589.2,1348.8" fill="#9bbb59"/>
<polygon points="625.6,1353.0 633.6,1353.0 629.6,1346.2" fill="#9bbb59"/>
<text x="60.6" y="1286.3" font-family="Liberation Sans, sans-serif" font-size="9.4" font-weight="normal" fill="#111" text-anchor="middle" textLength="25" lengthAdjust="spacingAndGlyphs" stroke="#111" stroke-width="0.15">343.80</text>
<text x="63.2" y="1322.0" font-family="Liberation Sans, sans-serif" font-size="9.4" font-weight="normal" fill="#111" text-anchor="middle" textLength="25.5" lengthAdjust="spacingAndGlyphs" stroke="#111" stroke-width="0.15">334.74</text>
<text x="60.5" y="1365.3" font-family="Liberation Sans, sans-serif" font-size="9.4" font-weight="normal" fill="#111" text-anchor="middle" textLength="25" lengthAdjust="spacingAndGlyphs" stroke="#111" stroke-width="0.15">286.83</text>
<text x="161.2" y="1191.5" font-family="Liberation Sans, sans-serif" font-size="9.4" font-weight="normal" fill="#111" text-anchor="middle" textLength="26.5" lengthAdjust="spacingAndGlyphs" stroke="#111" stroke-width="0.15">429.32</text>
<text x="202.0" y="1207.8" font-family="Liberation Sans, sans-serif" font-size="9.4" font-weight="normal" fill="#111" text-anchor="middle" textLength="26.3" lengthAdjust="spacingAndGlyphs" stroke="#111" stroke-width="0.15">419.51</text>
<text x="177.0" y="1250.7" font-family="Liberation Sans, sans-serif" font-size="9.4" font-weight="normal" fill="#111" text-anchor="middle" textLength="26.3" lengthAdjust="spacingAndGlyphs" stroke="#111" stroke-width="0.15">367.64</text>
<text x="236.0" y="1293.0" font-family="Liberation Sans, sans-serif" font-size="9.4" font-weight="normal" fill="#111" text-anchor="middle" textLength="27" lengthAdjust="spacingAndGlyphs" stroke="#111" stroke-width="0.15">327.10</text>
<text x="246.6" y="1319.9" font-family="Liberation Sans, sans-serif" font-size="9.4" font-weight="normal" fill="#111" text-anchor="middle" textLength="26" lengthAdjust="spacingAndGlyphs" stroke="#111" stroke-width="0.15">313.09</text>
<text x="246.6" y="1347.0" font-family="Liberation Sans, sans-serif" font-size="9.4" font-weight="normal" fill="#111" text-anchor="middle" textLength="26" lengthAdjust="spacingAndGlyphs" stroke="#111" stroke-width="0.15">310.44</text>
<text x="510.5" y="1298.3" font-family="Liberation Sans, sans-serif" font-size="9.4" font-weight="normal" fill="#111" text-anchor="middle" textLength="27" lengthAdjust="spacingAndGlyphs" stroke="#111" stroke-width="0.15">319.94</text>
<text x="500.6" y="1333.0" font-family="Liberation Sans, sans-serif" font-size="9.4" font-weight="normal" fill="#111" text-anchor="middle" textLength="27.2" lengthAdjust="spacingAndGlyphs" stroke="#111" stroke-width="0.15">309.24</text>
<text x="505.8" y="1360.1" font-family="Liberation Sans, sans-serif" font-size="9.4" font-weight="normal" fill="#111" text-anchor="middle" textLength="25.7" lengthAdjust="spacingAndGlyphs" stroke="#111" stroke-width="0.15">307.22</text>
<text x="580.5" y="1301.6" font-family="Liberation Sans, sans-serif" font-size="9.4" font-weight="normal" fill="#111" text-anchor="middle" textLength="26.3" lengthAdjust="spacingAndGlyphs" stroke="#111" stroke-width="0.15">319.48</text>
<text x="626.2" y="1303.5" font-family="Liberation Sans, sans-serif" font-size="9.4" font-weight="normal" fill="#111" text-anchor="middle" textLength="26.4" lengthAdjust="spacingAndGlyphs" stroke="#111" stroke-width="0.15">318.95</text>
<text x="584.0" y="1324.5" font-family="Liberation Sans, sans-serif" font-size="9.4" font-weight="normal" fill="#111" text-anchor="middle" textLength="25.6" lengthAdjust="spacingAndGlyphs" stroke="#111" stroke-width="0.15">305.03</text>
<text x="624.0" y="1332.5" font-family="Liberation Sans, sans-serif" font-size="9.4" font-weight="normal" fill="#111" text-anchor="middle" textLength="26.4" lengthAdjust="spacingAndGlyphs" stroke="#111" stroke-width="0.15">307.22</text>
<text x="585.8" y="1345.2" font-family="Liberation Sans, sans-serif" font-size="9.4" font-weight="normal" fill="#111" text-anchor="middle" textLength="26.4" lengthAdjust="spacingAndGlyphs" stroke="#111" stroke-width="0.15">302.30</text>
<text x="619.7" y="1367.3" font-family="Liberation Sans, sans-serif" font-size="9.4" font-weight="normal" fill="#111" text-anchor="middle" textLength="27" lengthAdjust="spacingAndGlyphs" stroke="#111" stroke-width="0.15">305.00</text>
</svg></body></html>
